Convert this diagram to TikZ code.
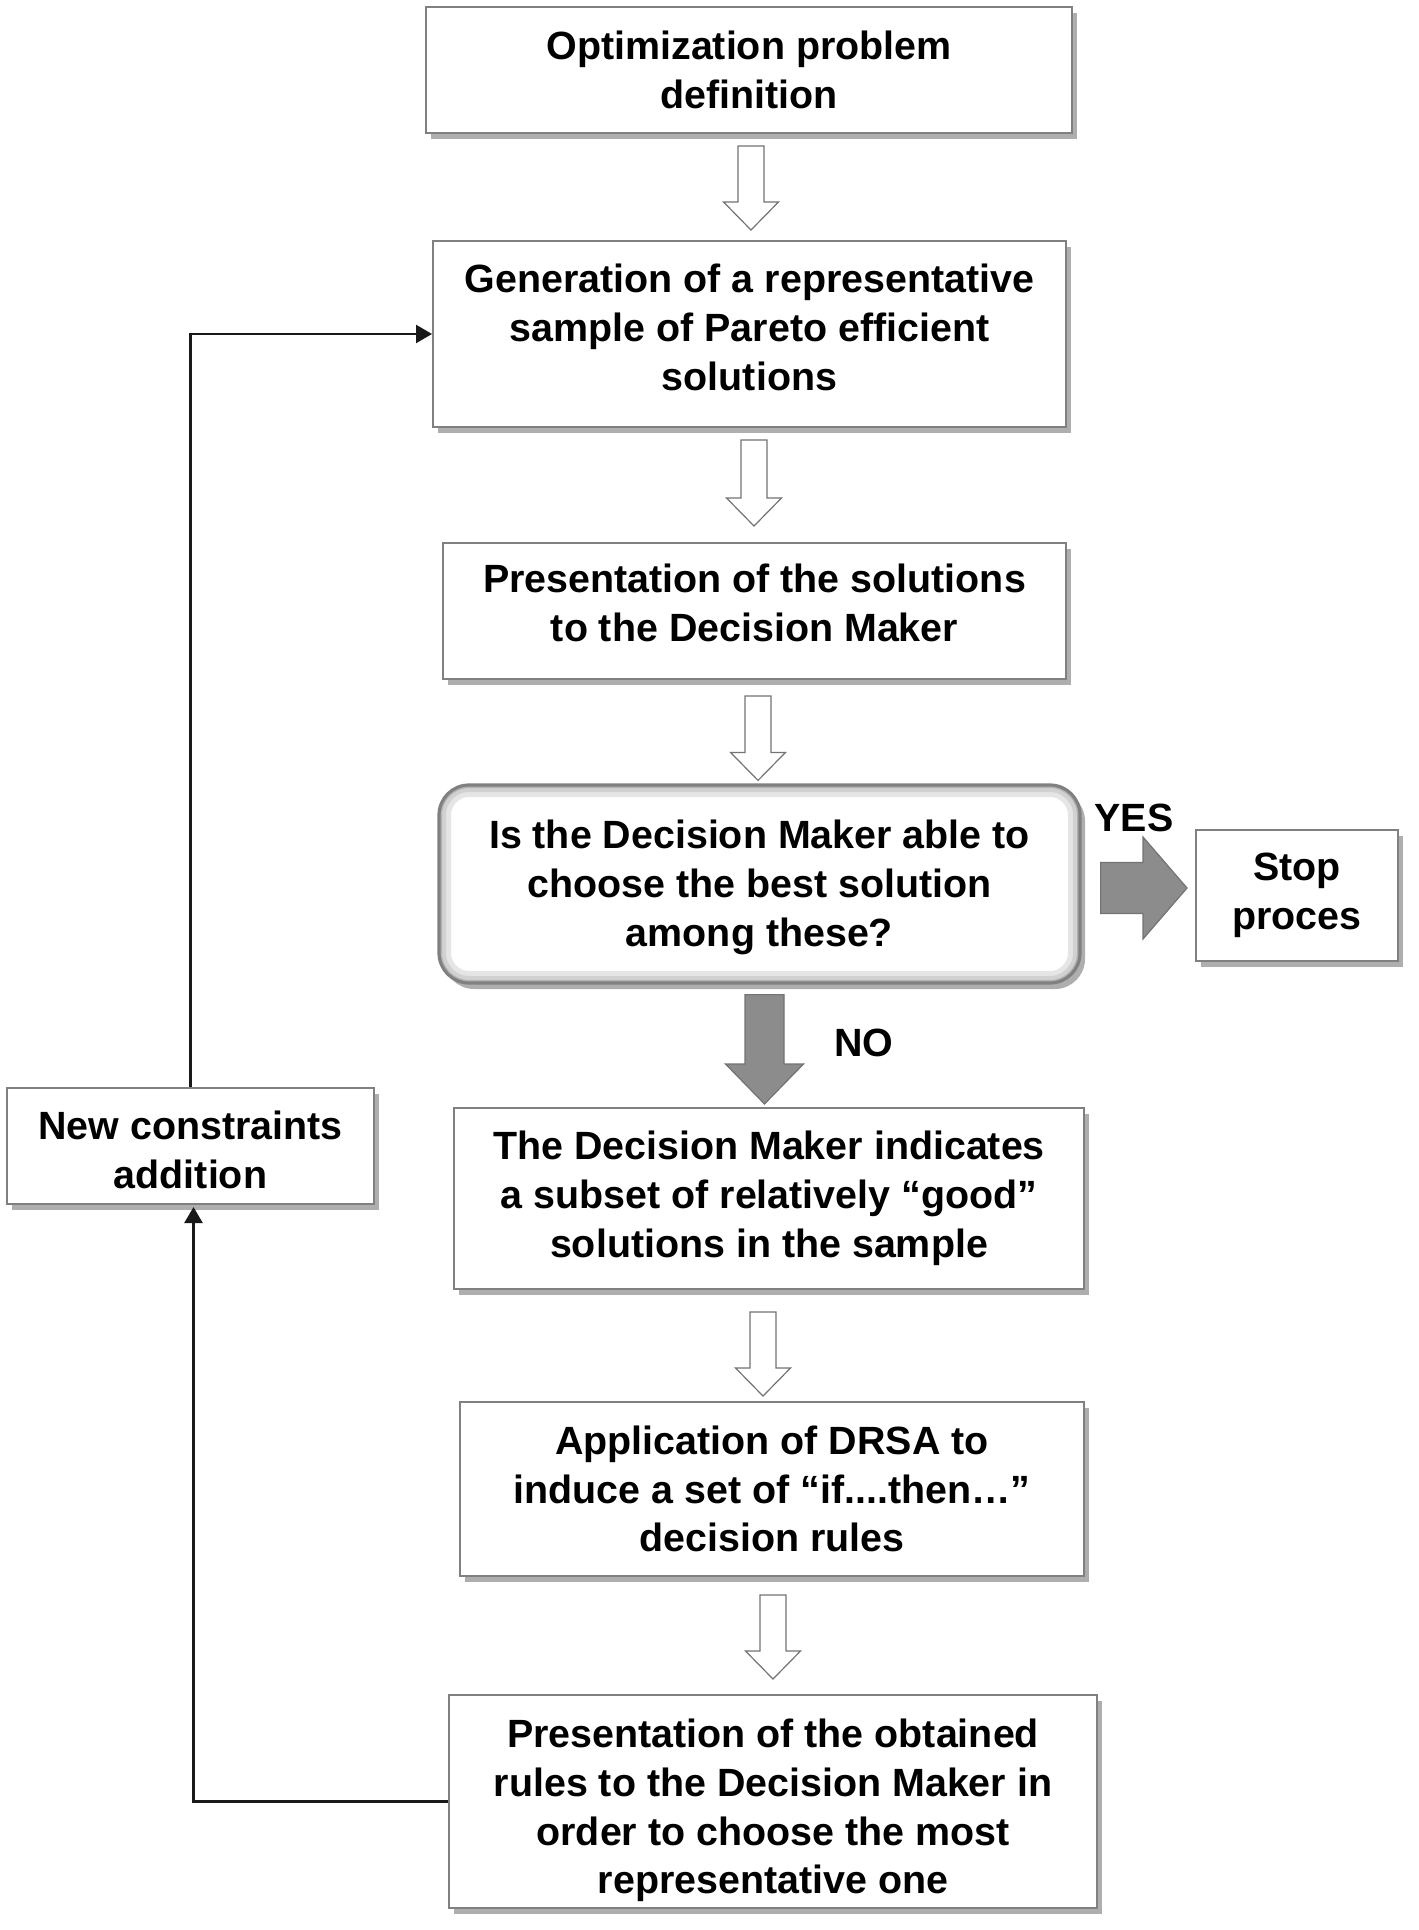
\documentclass[tikz,border=0pt]{standalone}
\usepackage{fontspec}
\setmainfont{Liberation Sans}
\usetikzlibrary{calc, arrows.meta, shadows}

% block arrow pointing down: style, start, tip, half shaft, half head, head length
\newcommand{\blockdown}[6]{%
  \draw[#1] let \p1=#2, \p2=#3 in
    (\x1-#4,\y1) -- (\x1+#4,\y1) -- (\x1+#4,\y2+#6) -- (\x1+#5,\y2+#6)
    -- (\x1,\y2) -- (\x1-#5,\y2+#6) -- (\x1-#4,\y2+#6) -- cycle;}
% block arrow pointing right
\newcommand{\blockright}[6]{%
  \draw[#1] let \p1=#2, \p2=#3 in
    (\x1,\y1+#4) -- (\x1,\y1-#4) -- (\x2-#6,\y1-#4) -- (\x2-#6,\y1-#5)
    -- (\x2,\y1) -- (\x2-#6,\y1+#5) -- (\x2-#6,\y1+#4) -- cycle;}

\begin{document}
\begin{tikzpicture}[x=0.5pt, y=-0.5pt,
    procbox/.style={draw=black!50, line width=1pt, fill=white, align=center,
      inner sep=0pt, font=\fontsize{19.7}{24.4}\selectfont\bfseries,
      drop shadow={shadow xshift=2.5pt, shadow yshift=-3pt, opacity=.45, fill=black!70}},
    askbox/.style={procbox, rounded corners=15pt, line width=1.6pt,
      path picture={\foreach \w/\c in {12pt/10, 7pt/18, 3pt/30}
        \draw[black!\c, line width=\w, rounded corners=15pt]
          (path picture bounding box.south west) rectangle (path picture bounding box.north east);}},
    hollowblock/.style={draw=black!55, line width=0.6pt, fill=white},
    greyblock/.style={draw=black!55, line width=0.6pt, fill=black!45},
    loopline/.style={draw=black!90, line width=1.2pt, -{Triangle[length=8pt,width=9pt]}},
    answer/.style={font=\fontsize{19.7}{24.4}\selectfont\bfseries}]
  \useasboundingbox (0,0) rectangle (1418,1930);

  % main column
  \node[procbox, minimum width=323pt, minimum height=63pt] (opt) at (749,70)
    {Optimization problem\\definition};
  \node[procbox, minimum width=316.5pt, minimum height=93pt, text depth=7pt] (gen) at (749.5,334)
    {Generation of a representative\\sample of Pareto efficient\\solutions};
  \node[procbox, minimum width=311.5pt, minimum height=68pt, text depth=8pt] (pres) at (754.5,611)
    {Presentation of the solutions\\to the Decision Maker};
  \node[askbox, minimum width=320.5pt, minimum height=99pt, text height=62pt, text depth=0pt] (ask) at (759.5,884)
    {Is the Decision Maker able to\\choose the best solution\\among these?};
  \node[procbox, minimum width=101pt, minimum height=65.5pt] (stop) at (1297,895.5)
    {Stop\\proces};
  \node[procbox, minimum width=315pt, minimum height=90.5pt] (good) at (769,1198.5)
    {The Decision Maker indicates\\a subset of relatively “good”\\solutions in the sample};
  \node[procbox, minimum width=312pt, minimum height=87pt] (drsa) at (772,1489)
    {Application of DRSA to\\induce a set of “if....then…”\\decision rules};
  \node[procbox, minimum width=324pt, minimum height=106.5pt, text height=92.3pt, text depth=0pt] (rules) at (773,1801.5)
    {Presentation of the obtained\\rules to the Decision Maker in\\order to choose the most\\representative one};
  \node[procbox, minimum width=183.5pt, minimum height=58pt, text height=42pt, text depth=0pt] (cons) at (190.5,1146)
    {New constraints\\addition};

  % hollow arrows between the steps
  \blockdown{hollowblock}{($(opt.south)+(2,12)$)}{($(gen.north)+(0,-10)$)}{6.5pt}{13.75pt}{14pt}
  \blockdown{hollowblock}{($(gen.south)+(4.5,12)$)}{($(pres.north)+(0,-16)$)}{6.5pt}{13.75pt}{14pt}
  \blockdown{hollowblock}{($(pres.south)+(3.5,16)$)}{($(ask.north)+(0,-3)$)}{6.5pt}{13.75pt}{14pt}
  \blockdown{hollowblock}{($(good.south)+(-6,22)$)}{($(drsa.north)+(0,-5)$)}{6.5pt}{13.75pt}{14pt}
  \blockdown{hollowblock}{($(drsa.south)+(1,18)$)}{($(rules.north)+(0,-15)$)}{6.5pt}{13.75pt}{14pt}

  % decision
  \blockright{greyblock}{($(ask.east)+(19,4)$)}{($(stop.west)+(-8,0)$)}{12.75pt}{25.5pt}{22pt}
  \blockdown{greyblock}{($(ask.south)+(5,10)$)}{($(good.north)+(0,-3)$)}{9.75pt}{19.5pt}{20pt}
  \node[answer] (yes) at (1134,818) {YES};
  \node[answer] (no) at (864,1043) {NO};

  % feedback loop
  \draw[loopline] (rules.west) -| ($(cons.south)+(3,2)$);
  \draw[loopline] (cons.north) |- (gen.west);
\end{tikzpicture}
\end{document}
